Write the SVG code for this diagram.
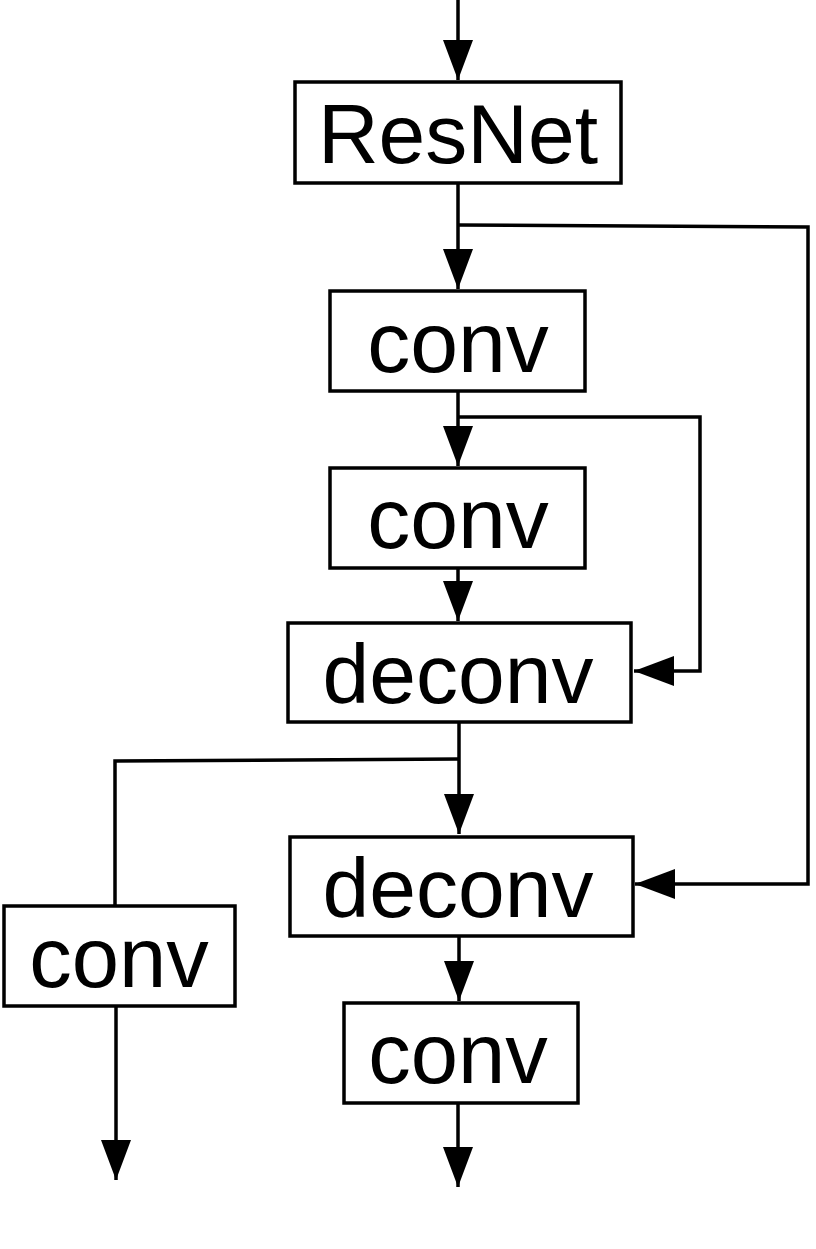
<svg xmlns="http://www.w3.org/2000/svg" width="816" height="1249" viewBox="0 0 816 1249">
<style>
.box{fill:#fff;stroke:#000;stroke-width:3.5}
.lbl{font-family:"Liberation Sans",Arial,sans-serif;font-size:84px;fill:#000;text-anchor:middle}
.cn{fill:none;stroke:#000;stroke-width:3.5}
</style>
<defs>
<marker id="ah" viewBox="0 0 40 30" refX="40" refY="15" markerWidth="40" markerHeight="30" markerUnits="userSpaceOnUse" orient="auto">
<path d="M0,0 L40,15 L0,30 Z" fill="#000"/>
</marker>
</defs>
<g id="connectors">
<path class="cn" d="M458,0 V80" marker-end="url(#ah)"/>
<path class="cn" d="M458,183 V289" marker-end="url(#ah)"/>
<path class="cn" d="M458,225 L808,227 V884 H635" marker-end="url(#ah)"/>
<path class="cn" d="M458,391 V466" marker-end="url(#ah)"/>
<path class="cn" d="M458,417 H700 V671 H634" marker-end="url(#ah)"/>
<path class="cn" d="M458,568 V621" marker-end="url(#ah)"/>
<path class="cn" d="M459,722 V834" marker-end="url(#ah)"/>
<path class="cn" d="M459,759 L115,761 V906"/>
<path class="cn" d="M459,936 V1001" marker-end="url(#ah)"/>
<path class="cn" d="M116,1006 V1180" marker-end="url(#ah)"/>
<path class="cn" d="M458,1103 V1187" marker-end="url(#ah)"/>
</g>
<g id="resnet">
<rect class="box" x="295" y="82" width="326" height="101"/>
<text class="lbl" x="458" y="163">ResNet</text>
</g>
<g id="conv1">
<rect class="box" x="330" y="291" width="255" height="100"/>
<text class="lbl" x="458" y="372" style="font-size:86px">conv</text>
</g>
<g id="conv2">
<rect class="box" x="330" y="468" width="255" height="100"/>
<text class="lbl" x="458" y="548" style="font-size:86px">conv</text>
</g>
<g id="deconv1">
<rect class="box" x="288" y="623" width="343" height="99"/>
<text class="lbl" x="458" y="703">deconv</text>
</g>
<g id="deconv2">
<rect class="box" x="290" y="837" width="343" height="99"/>
<text class="lbl" x="458" y="917">deconv</text>
</g>
<g id="conv3">
<rect class="box" x="4" y="906" width="231" height="100"/>
<text class="lbl" x="119" y="987" style="font-size:85px">conv</text>
</g>
<g id="conv4">
<rect class="box" x="344" y="1003" width="234" height="100"/>
<text class="lbl" x="458" y="1083" style="font-size:85px">conv</text>
</g>
</svg>
